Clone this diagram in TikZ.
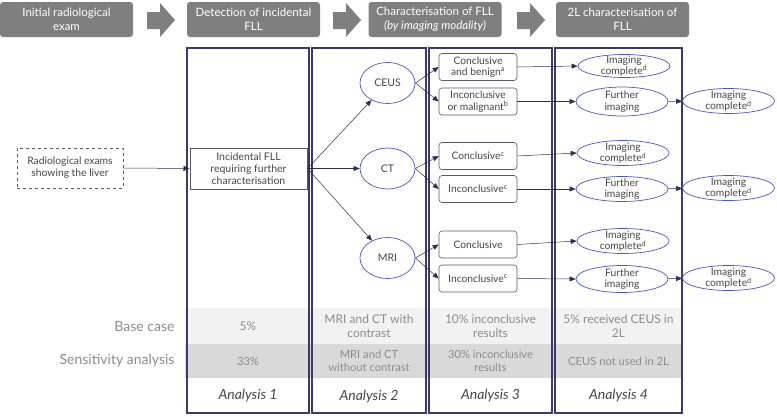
\documentclass[tikz,border=0pt]{standalone}
\usepackage{fontspec}
\setmainfont{Lato}
\usetikzlibrary{arrows.meta,shapes.geometric,positioning}

\definecolor{headgray}{HTML}{7F7F7F}
\definecolor{framenavy}{HTML}{3B3A68}
\definecolor{connnavy}{HTML}{2E2D55}
\definecolor{ovalblue}{HTML}{4A55C6}
\definecolor{boxgray}{HTML}{58586A}
\definecolor{textgray}{HTML}{454545}
\definecolor{rowtext}{HTML}{8C8C8C}
\definecolor{baserow}{HTML}{F2F2F2}
\definecolor{sensrow}{HTML}{D9D9D9}

\tikzset{
  header/.style={fill=headgray, rounded corners=3pt, text=white, align=center,
    minimum width=133pt, minimum height=35pt, inner sep=1pt,
    font=\fontsize{11.5}{13.5}\selectfont},
  headarrow/.style={fill=headgray},
  frame/.style={draw=framenavy, line width=1.1pt},
  conn/.style={draw=connnavy, line width=0.5pt, -{Triangle[length=6pt,width=5pt]}},
  dashbox/.style={draw=boxgray, dashed, line width=0.9pt, align=center, text=textgray,
    minimum width=106pt, minimum height=40pt, font=\fontsize{10.3}{12}\selectfont},
  fllbox/.style={draw=boxgray, line width=1pt, align=center, text=textgray,
    minimum width=117pt, minimum height=41pt, inner sep=0pt, font=\fontsize{10.5}{12}\selectfont},
  modality/.style={ellipse, draw=ovalblue, line width=0.7pt, text=textgray,
    minimum width=55pt, minimum height=41pt, inner sep=0pt, font=\fontsize{10.5}{12}\selectfont},
  resbox/.style={draw=boxgray, rounded corners=3pt, line width=0.6pt, align=center, text=textgray,
    minimum width=78pt, minimum height=27pt, inner sep=0pt, font=\fontsize{10.3}{11.5}\selectfont},
  outcome/.style={ellipse, draw=ovalblue, line width=0.7pt, align=center, text=textgray,
    minimum width=92pt, minimum height=25pt, inner xsep=0pt, inner ysep=-6pt,
    font=\fontsize{10.3}{11.5}\selectfont},
  rowlabel/.style={text=rowtext, font=\fontsize{14}{16}\selectfont, anchor=east},
  basecell/.style={text=rowtext, align=center, font=\fontsize{12}{13.5}\selectfont},
  senscell/.style={text=rowtext, align=center, font=\fontsize{11.2}{12.5}\selectfont},
  analysis/.style={text=textgray, font=\fontsize{14}{16}\selectfont\itshape},
}

\begin{document}
\begin{tikzpicture}[x=1pt,y=-1pt]
  \useasboundingbox (0,0) rectangle (777,416);

  % header row
  \node[header] (h1) at (66.5,19.5) {Initial radiological\\exam};
  \node[header] (h2) at (253.5,19.5) {Detection of incidental\\FLL};
  \node[header] (h3) at (435,19.5) {Characterisation of FLL\\{\itshape (by imaging modality)}};
  \node[header] (h4) at (622.5,19.5) {2L characterisation of\\FLL};

  \fill[headarrow] (147,12) -- (160,12) -- (160,3) -- (175,20) -- (160,37) -- (160,29) -- (147,29) -- cycle;
  \fill[headarrow] (333,12) -- (346,12) -- (346,3) -- (361,20) -- (346,37) -- (346,29) -- (333,29) -- cycle;
  \fill[headarrow] (517,12) -- (530,12) -- (530,3) -- (545,20) -- (530,37) -- (530,29) -- (517,29) -- cycle;

  % scenario rows
  \fill[baserow] (185,308) rectangle (682,344);
  \fill[sensrow] (185,344) rectangle (682,378);

  % analysis columns
  \draw[frame] (187,48) rectangle (309,413);
  \draw[frame] (312,48) rectangle (426,413);
  \draw[frame] (429,48) rectangle (552,413);
  \draw[frame] (555,48) rectangle (682,413);

  % pathway
  \node[dashbox] (exams) at (70,168) {Radiological exams\\showing the liver};
  \node[fllbox] (fll) at (248.5,168.5) {Incidental FLL\\requiring further\\characterisation};

  \node[modality] (ceus) at (387.5,83) {CEUS};
  \node[modality] (ct) at (387.5,168.5) {CT};
  \node[modality] (mri) at (387.5,258) {MRI};

  \node[resbox] (ceusC) at (478,67) {Conclusive\\and benign\textsuperscript{a}};
  \node[resbox] (ceusI) at (478,101.5) {Inconclusive\\or malignant\textsuperscript{b}};
  \node[resbox] (ctC) at (478,156) {Conclusive\textsuperscript{c}};
  \node[resbox] (ctI) at (478,189) {Inconclusive\textsuperscript{c}};
  \node[resbox] (mriC) at (478,244.5) {Conclusive};
  \node[resbox] (mriI) at (478,278.5) {Inconclusive\textsuperscript{c}};

  \node[outcome, minimum height=23pt] (ceusDone) at (624,66) {Imaging\\complete\textsuperscript{d}};
  \node[outcome, minimum height=29pt] (ceusMore) at (622,101.5) {Further\\imaging};
  \node[outcome] (ceusMoreDone) at (728.5,101) {Imaging\\complete\textsuperscript{d}};
  \node[outcome] (ctDone) at (623,153) {Imaging\\complete\textsuperscript{d}};
  \node[outcome] (ctMore) at (622,189) {Further\\imaging};
  \node[outcome] (ctMoreDone) at (728.5,188) {Imaging\\complete\textsuperscript{d}};
  \node[outcome] (mriDone) at (623,241) {Imaging\\complete\textsuperscript{d}};
  \node[outcome, minimum height=27pt] (mriMore) at (622,279) {Further\\imaging};
  \node[outcome] (mriMoreDone) at (728.5,278) {Imaging\\complete\textsuperscript{d}};

  \draw[conn] (exams) -- (fll);
  \draw[conn] (fll.east) -- (ceus);
  \draw[conn] (fll.east) -- (ct);
  \draw[conn] (fll.east) -- (mri);

  \draw[conn] (ceus.east) -- (ceusC.west);
  \draw[conn] (ceus.east) -- (ceusI.west);
  \draw[conn] (ct.east) -- (ctC.west);
  \draw[conn] (ct.east) -- (ctI.west);
  \draw[conn] (mri.east) -- (mriC.west);
  \draw[conn] (mri.east) -- (mriI.west);

  \draw[conn] (ceusC.east) -- (ceusDone.west);
  \draw[conn] (ceusI.east) -- (ceusMore.west);
  \draw[conn] (ceusMore) -- (ceusMoreDone);
  \draw[conn] (ctC.east) -- (ctDone.west);
  \draw[conn] (ctI.east) -- (ctMore.west);
  \draw[conn] (ctMore) -- (ctMoreDone);
  \draw[conn] (mriC.east) -- (mriDone.west);
  \draw[conn] (mriI.east) -- (mriMore.west);
  \draw[conn] (mriMore) -- (mriMoreDone);

  % base case / sensitivity analysis
  \node[rowlabel] (baseLbl) at (178,327) {Base case};
  \node[rowlabel] (sensLbl) at (178,361) {Sensitivity analysis};

  \node[basecell] (base1) at (248,326) {5\%};
  \node[basecell] (base2) at (369,326) {MRI and CT with\\contrast};
  \node[basecell] (base3) at (490.5,326) {10\% inconclusive\\results};
  \node[basecell] (base4) at (618.5,326) {5\% received CEUS in\\2L};

  \node[senscell] (sens1) at (248,361) {33\%};
  \node[senscell] (sens2) at (369,361) {MRI and CT\\without contrast};
  \node[senscell] (sens3) at (490.5,361) {30\% inconclusive\\results};
  \node[senscell] (sens4) at (618.5,361) {CEUS not used in 2L};

  \node[analysis] (an1) at (248,396) {Analysis 1};
  \node[analysis] (an2) at (369,397) {Analysis 2};
  \node[analysis] (an3) at (490.5,396) {Analysis 3};
  \node[analysis] (an4) at (618.5,396) {Analysis 4};
\end{tikzpicture}
\end{document}
